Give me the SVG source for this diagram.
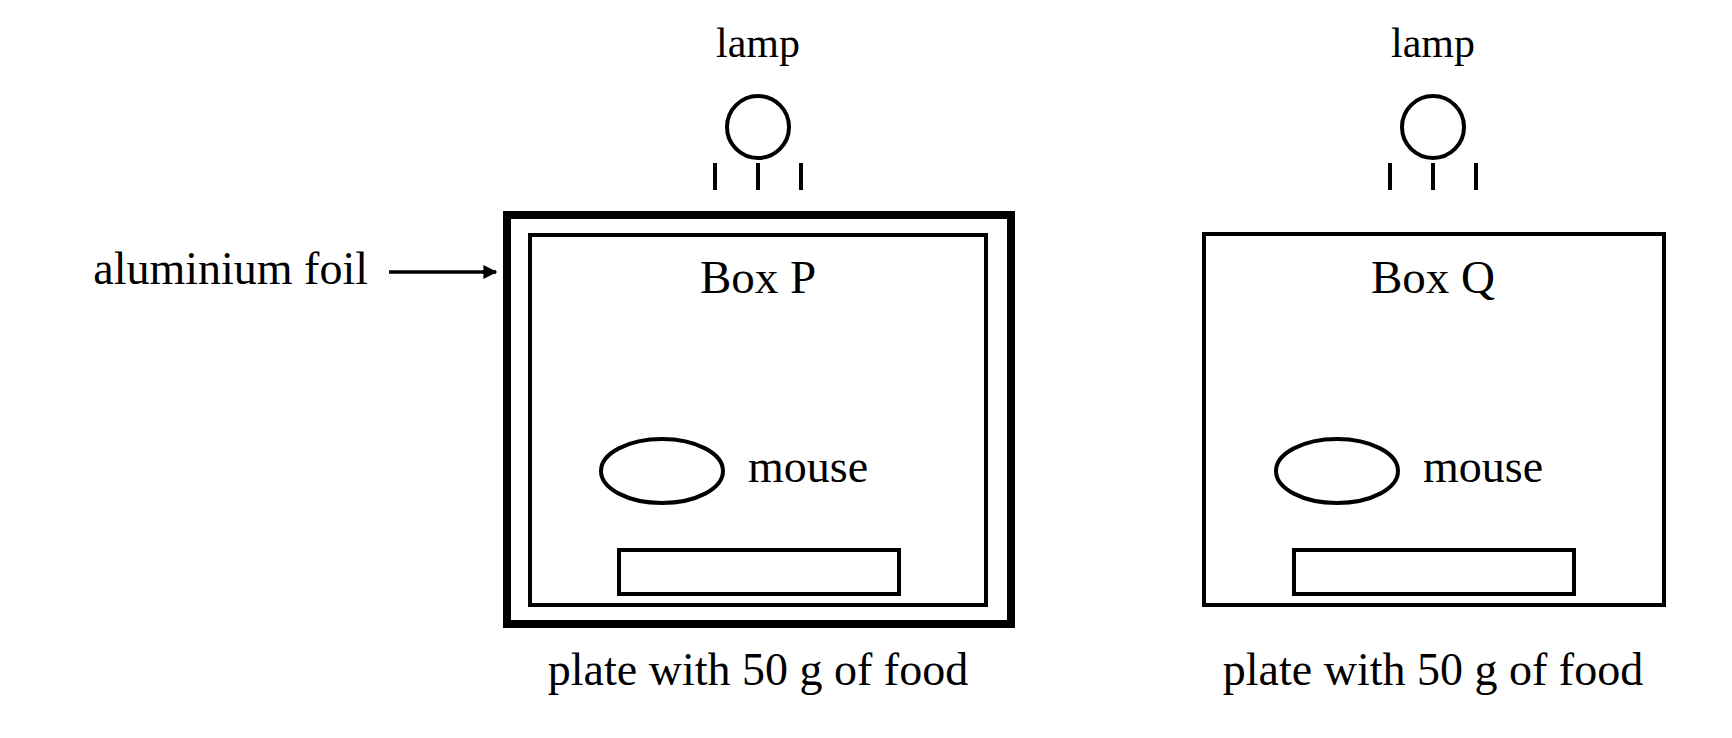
<svg xmlns="http://www.w3.org/2000/svg" width="1732" height="738" viewBox="0 0 1732 738">
<style>
text{font-family:"Liberation Serif","Times New Roman",serif;fill:#000}
.s{fill:none;stroke:#000;stroke-width:4}
.l{font-size:42px;text-anchor:middle}
.b{font-size:47px;text-anchor:middle}
.m{font-size:46px}
</style>
<defs><marker id="ah" viewBox="0 0 10 10" refX="9" refY="5" markerWidth="14" markerHeight="14" markerUnits="userSpaceOnUse" orient="auto"><path d="M0,0 L10,5 L0,10 z" fill="#000"/></marker></defs>
<rect width="1732" height="738" fill="#fff"/>
<g id="lampP"><text class="l" x="758" y="57">lamp</text><circle class="s" cx="758" cy="127" r="31"/><path class="s" d="M715,163V190M758,163V190M801,163V190"/></g>
<g id="boxP"><rect x="507" y="215" width="504" height="409" fill="none" stroke="#000" stroke-width="8"/><rect class="s" x="530" y="235" width="456" height="370"/><text class="b" x="758" y="293">Box P</text></g>
<g id="mouseP"><ellipse class="s" cx="662" cy="471" rx="61" ry="32"/><text class="m" x="748" y="482">mouse</text></g>
<g id="plateP"><rect class="s" x="619" y="550" width="280" height="44"/><text class="m" x="758" y="685" text-anchor="middle">plate with 50 g of food</text></g>
<g id="foil"><text class="m" x="368" y="284" text-anchor="end">aluminium foil</text></g>
<g id="lampQ"><text class="l" x="1433" y="57">lamp</text><circle class="s" cx="1433" cy="127" r="31"/><path class="s" d="M1390,163V190M1433,163V190M1476,163V190"/></g>
<g id="boxQ"><rect class="s" x="1204" y="234" width="460" height="371"/><text class="b" x="1433" y="293">Box Q</text></g>
<g id="mouseQ"><ellipse class="s" cx="1337" cy="471" rx="61" ry="32"/><text class="m" x="1423" y="482">mouse</text></g>
<g id="plateQ"><rect class="s" x="1294" y="550" width="280" height="44"/><text class="m" x="1433" y="685" text-anchor="middle">plate with 50 g of food</text></g>
<g id="connectors"><line x1="389" y1="272" x2="496" y2="272" stroke="#000" stroke-width="3.5" marker-end="url(#ah)"/></g>
</svg>
